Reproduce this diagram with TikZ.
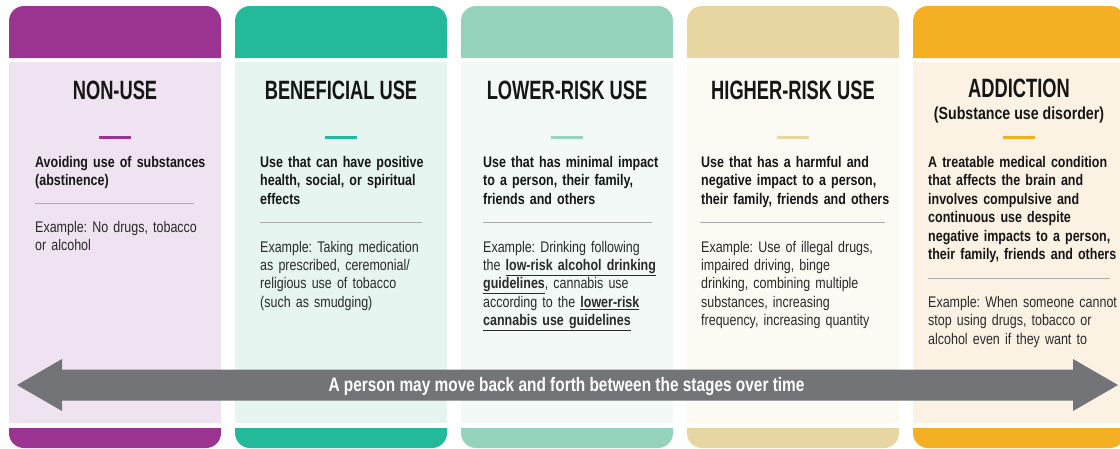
\documentclass[tikz,border=0pt]{standalone}
\usepackage{fontspec}
\setmainfont{Liberation Sans}[FakeStretch=0.81]
\newfontfamily\subTitleFont{Liberation Sans}[FakeStretch=0.69]
\newfontfamily\subBannerFont{Liberation Sans}[FakeStretch=0.79]
\usetikzlibrary{positioning,calc}
\definecolor{nonuseHead}{HTML}{9B3391}
\definecolor{nonuseBody}{HTML}{EFE3F1}
\definecolor{benefHead}{HTML}{22BA9A}
\definecolor{benefBody}{HTML}{E7F5F1}
\definecolor{lowerHead}{HTML}{95D3BD}
\definecolor{lowerBody}{HTML}{F2F9F6}
\definecolor{higherHead}{HTML}{E8D6A2}
\definecolor{higherBody}{HTML}{FDFAF4}
\definecolor{addictHead}{HTML}{F5AF22}
\definecolor{addictBody}{HTML}{FCF2E4}
\definecolor{arrowGray}{HTML}{737477}
\definecolor{ruleGray}{HTML}{ABABAB}
\definecolor{inkText}{HTML}{161616}
\definecolor{exampleText}{HTML}{2A2A2A}
\tikzset{
   subBody/.style = {
         rectangle,
         anchor = north west,
         inner sep = 0 pt,
         minimum width = 212pt,
         minimum height = 361pt,
      },
   subTitle/.style = {
         anchor = base,
         inner sep = 0 pt,
         text = inkText,
         font = \subTitleFont\bfseries\fontsize{26.5}{28}\selectfont,
      },
   subSubtitle/.style = {
         anchor = base,
         inner sep = 0 pt,
         text = inkText,
         font = \bfseries\fontsize{17.5}{20}\selectfont,
      },
   subDef/.style = {
         anchor = base west,
         inner sep = 0 pt,
         text width = 200pt,
         align = left,
         text = inkText,
         font = \frenchspacing\bfseries\fontsize{15.4}{18.4}\selectfont,
      },
   subExample/.style = {
         anchor = base west,
         inner sep = 0 pt,
         text width = 200pt,
         align = left,
         text = exampleText,
         font = \frenchspacing\fontsize{15.4}{18.4}\selectfont,
      },
   subRule/.style = {
         draw = ruleGray,
         line width = 1pt,
      },
   subMark/.style = {
         line width = 3pt,
      },
   subBanner/.style = {
         anchor = base,
         inner sep = 0 pt,
         text = white,
         font = \subBannerFont\bfseries\fontsize{19.5}{21}\selectfont,
      },
}
\newcommand{\subLink}[1]{\underline{\textbf{#1}}}

\begin{document}
\frenchspacing
\begin{tikzpicture}[x=1pt, y=-1pt]
\clip (0,0) rectangle (1120,448);

% Place columns
\foreach \x/\hd/\bd [count=\i] in {9/nonuseHead/nonuseBody, 235/benefHead/benefBody,
      461/lowerHead/lowerBody, 687/higherHead/higherBody, 913/addictHead/addictBody}{
   \fill [\hd] (\x,58) [rounded corners=15pt] -- (\x,6) -- (\x+212,6) [sharp corners] -- (\x+212,58) -- cycle;
   \node [subBody, fill=\bd] (body\i) at (\x,62) {};
   \fill [\hd] (\x,428) [rounded corners=15pt] -- (\x,448) -- (\x+212,448) [sharp corners] -- (\x+212,428) -- cycle;
   \draw [subMark, \hd] (\x+90,137) -- (\x+122,137);
}

% Place nodes
\node [subTitle] (title1) at (115,99) {NON-USE};
\node [subTitle] (title2) at (341,99) {BENEFICIAL USE};
\node [subTitle] (title3) at (567,99) {LOWER-RISK USE};
\node [subTitle] (title4) at (793,99) {HIGHER-RISK USE};
\node [subTitle] (title5) at (1019,97) {ADDICTION};
\node [subSubtitle] (subtitle5) at (1019,119.5) {(Substance use disorder)};

\node [subDef] (def1) at (35,167.5) {Avoiding use of substances\\(abstinence)};
\node [subDef] (def2) at (260,167.5) {Use that can have positive\\health, social, or spiritual\\effects};
\node [subDef] (def3) at (483,167.5) {Use that has minimal impact\\to a person, their family,\\friends and others};
\node [subDef] (def4) at (701,167.5) {Use that has a harmful and\\negative impact to a person,\\their family, friends and others};
\node [subDef] (def5) at (928,167.5) {A treatable medical condition\\that affects the brain and\\involves compulsive and\\continuous use despite\\negative impacts to a person,\\their family, friends and others};

\node [subExample] (ex1) at (35,232.5) {Example: No drugs, tobacco\\or alcohol};
\node [subExample] (ex2) at (260,252) {Example: Taking medication\\as prescribed, ceremonial/\\religious use of tobacco\\(such as smudging)};
\node [subExample] (ex3) at (483,252) {Example: Drinking following\\the \subLink{low-risk alcohol drinking}\\\subLink{guidelines}, cannabis use\\according to the \subLink{lower-risk}\\\subLink{cannabis use guidelines}};
\node [subExample] (ex4) at (701,252) {Example: Use of illegal drugs,\\impaired driving, binge\\drinking, combining multiple\\substances, increasing\\frequency, increasing quantity};
\node [subExample] (ex5) at (928,307.5) {Example: When someone cannot\\stop using drugs, tobacco or\\alcohol even if they want to};

% Place rules
\path [subRule] (35,203) -- (194,203);
\path [subRule] (260,222) -- (422,222);
\path [subRule] (483,222) -- (652,222);
\path [subRule] (700,222) -- (885,222);
\path [subRule] (928,278) -- (1110,278);

% Draw arrow
\fill [arrowGray] (17,385) -- (62,359) -- (62,369.5) -- (1073,369.5) -- (1073,359) -- (1118,385)
   -- (1073,411) -- (1073,400.5) -- (62,400.5) -- (62,411) -- cycle;
\node [subBanner] (banner) at (566.5,391) {A person may move back and forth between the stages over time};

\end{tikzpicture}
\end{document}
